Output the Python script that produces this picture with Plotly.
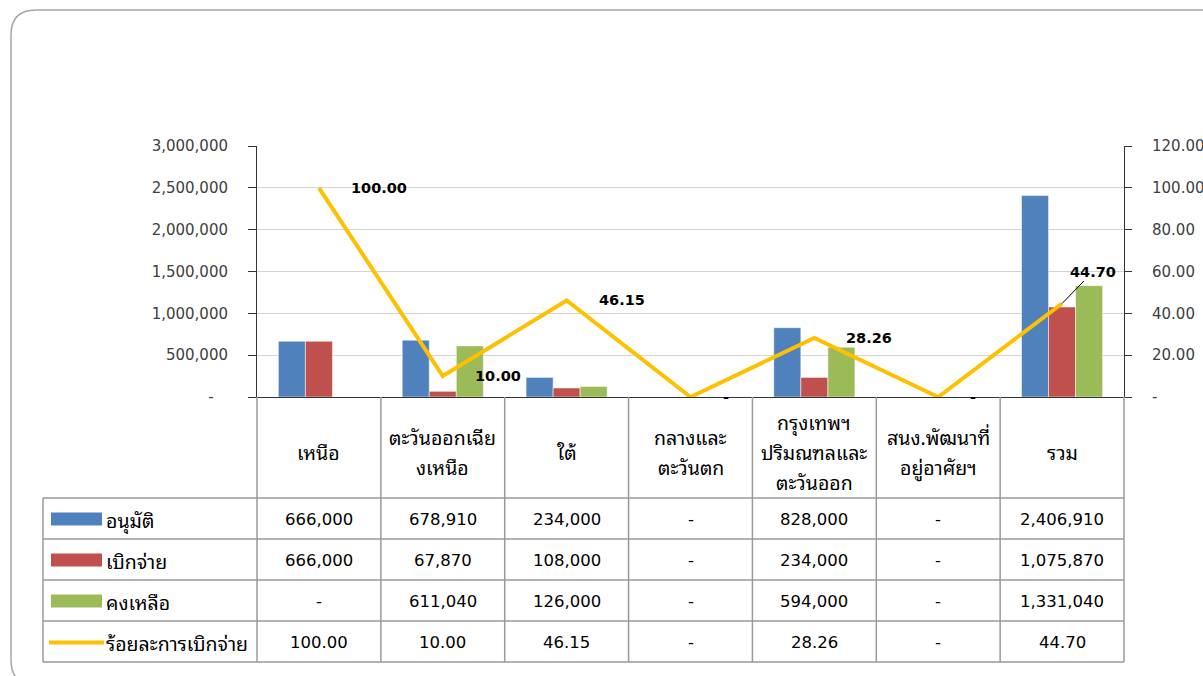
import plotly.graph_objects as go

# ---------------- data ----------------
categories = ["เหนือ", "ตะวันออกเฉียงเหนือ", "ใต้", "กลางและตะวันตก",
              "กรุงเทพฯ ปริมณฑลและตะวันออก", "สนง.พัฒนาที่อยู่อาศัยฯ", "รวม"]
header_lines = [["เหนือ"], ["ตะวันออกเฉีย", "งเหนือ"], ["ใต้"], ["กลางและ", "ตะวันตก"],
                ["กรุงเทพฯ", "ปริมณฑลและ", "ตะวันออก"], ["สนง.พัฒนาที่", "อยู่อาศัยฯ"], ["รวม"]]
approved = [666000, 678910, 234000, 0, 828000, 0, 2406910]
disbursed = [666000, 67870, 108000, 0, 234000, 0, 1075870]
remaining = [0, 611040, 126000, 0, 594000, 0, 1331040]
pct = [100.00, 10.00, 46.15, 0.0, 28.26, 0.0, 44.70]
series_names = ["อนุมัติ", "เบิกจ่าย", "คงเหลือ", "ร้อยละการเบิกจ่าย"]
left_tickvals = [0, 500000, 1000000, 1500000, 2000000, 2500000, 3000000]
left_ticktext = ["-\u00a0\u00a0\u00a0", "500,000", "1,000,000", "1,500,000", "2,000,000", "2,500,000", "3,000,000"]
right_tickvals = [0, 20, 40, 60, 80, 100, 120]
right_ticktext = ["-", "20.00", "40.00", "60.00", "80.00", "100.00", "120.00"]

colors = ["#4F81BD", "#C0504D", "#9BBB59", "#FFC000"]

# ---------------- geometry helpers (pixels -> paper) ----------------
W, H = 1203, 676
L, R, T, B = 257, 1124, 146, 397
def PX(px):
    return (px - L) / (R - L)
def PY(py):
    return (B - py) / (B - T)

def fmt_int(v):
    return "-" if v == 0 else f"{v:,}"
def fmt_pct(v):
    return "-" if v == 0 else f"{v:.2f}"

NUMFONT = "DejaVu Sans, Tahoma, sans-serif"
THAIFONT = "Tahoma, Noto Sans Thai Looped, Noto Sans Thai, Noto Sans, DejaVu Sans, sans-serif"
THAISIZE = 19.5

fig = go.Figure()
for name, vals, col in zip(series_names[:3], [approved, disbursed, remaining], colors[:3]):
    fig.add_trace(go.Bar(x=categories, y=vals, name=name, marker_color=col,
                         marker_line=dict(color="rgba(255,255,255,0.5)", width=1)))
fig.add_trace(go.Scatter(x=categories, y=pct, yaxis="y2", mode="lines", name=series_names[3],
                         line=dict(color=colors[3], width=4), cliponaxis=False))

annotations = []
shapes = []

# line data labels
for i, (c, v) in enumerate(zip(categories, pct)):
    if i == len(pct) - 1:
        annotations.append(dict(x=c, y=v, xref="x", yref="y2", text="<b>%s</b>" % fmt_pct(v),
                                showarrow=True, ax=31, ay=-32, arrowhead=0, arrowwidth=1,
                                arrowcolor="black", standoff=0,
                                font=dict(family=NUMFONT, size=14.5, color="black")))
    else:
        annotations.append(dict(x=c, y=v, xref="x", yref="y2", text="<b>%s</b>" % fmt_pct(v),
                                showarrow=False, xanchor="left", xshift=30,
                                font=dict(family=NUMFONT, size=14.5, color="black")))

# ---------------- data table ----------------
row_lines = [498, 539, 580, 621, 662]
grid_col = "#9a9a9a"
n = len(categories)
for y in row_lines:
    shapes.append(dict(type="line", xref="paper", yref="paper", x0=PX(43), x1=1,
                       y0=PY(y), y1=PY(y), line=dict(color=grid_col, width=1.5)))
shapes.append(dict(type="line", xref="paper", yref="paper", x0=PX(43), x1=PX(43),
                   y0=PY(498), y1=PY(662), line=dict(color=grid_col, width=1.5)))
for i in range(n + 1):
    shapes.append(dict(type="line", xref="paper", yref="paper", x0=i / n, x1=i / n,
                       y0=0, y1=PY(662), line=dict(color=grid_col, width=1.5)))

# header text
for c, lines in zip(categories, header_lines):
    k = len(lines)
    for j, t in enumerate(lines):
        yc = 451 + (j - (k - 1) / 2) * 30
        annotations.append(dict(x=c, y=PY(yc), xref="x", yref="paper", text=t, showarrow=False,
                                xanchor="center", yanchor="middle",
                                font=dict(family=THAIFONT, size=THAISIZE, color="black")))

# rows
rows = [[fmt_int(v) for v in approved], [fmt_int(v) for v in disbursed],
        [fmt_int(v) for v in remaining], [fmt_pct(v) for v in pct]]
for r, (rowvals, name, col) in enumerate(zip(rows, series_names, colors)):
    yc = (row_lines[r] + row_lines[r + 1]) / 2 + 1
    for c, t in zip(categories, rowvals):
        annotations.append(dict(x=c, y=PY(yc), xref="x", yref="paper", text=t, showarrow=False,
                                xanchor="center", yanchor="middle",
                                font=dict(family=NUMFONT, size=16.5, color="black")))
    annotations.append(dict(x=PX(104), y=PY(yc), xref="paper", yref="paper", text=name,
                            showarrow=False, xanchor="left", yanchor="middle",
                            font=dict(family=THAIFONT, size=THAISIZE, color="black")))
    if r < 3:
        shapes.append(dict(type="rect", xref="paper", yref="paper", x0=PX(51), x1=PX(102),
                           y0=PY(yc - 7), y1=PY(yc + 6), fillcolor=col, line=dict(width=0)))
    else:
        shapes.append(dict(type="line", xref="paper", yref="paper", x0=PX(49), x1=PX(104),
                           y0=PY(yc), y1=PY(yc), line=dict(color=col, width=4)))

# outer rounded frame
path = (f"M {PX(36)},{PY(685)} Q {PX(11)},{PY(685)} {PX(11)},{PY(660)} "
        f"L {PX(11)},{PY(35)} Q {PX(11)},{PY(10)} {PX(36)},{PY(10)} L {PX(1300)},{PY(10)}")
shapes.append(dict(type="path", xref="paper", yref="paper", path=path,
                   line=dict(color="#a6a6a6", width=1.5)))

axis_col = "#404040"
fig.update_layout(
    width=W, height=H,
    margin=dict(l=L, r=W - R, t=T, b=H - B, pad=0, autoexpand=False),
    paper_bgcolor="white", plot_bgcolor="white",
    showlegend=False,
    barmode="group", bargap=0.345, bargroupgap=0,
    xaxis=dict(type="category", range=[-0.5, n - 0.5], showticklabels=False, ticks="",
               showgrid=False, showline=True, linecolor="#333333", linewidth=1, zeroline=False,
               automargin=False, fixedrange=True),
    yaxis=dict(range=[0, 3000000], tickvals=left_tickvals, ticktext=left_ticktext,
               showgrid=True, gridcolor="#d4d4d4", gridwidth=1, zeroline=False,
               showline=True, linecolor="#333333", linewidth=1, automargin=False,
               ticks="outside", ticklen=8, tickcolor="#333333", ticklabelstandoff=17,
               tickfont=dict(family=NUMFONT, size=15, color=axis_col)),
    yaxis2=dict(range=[0, 120], overlaying="y", side="right", tickvals=right_tickvals,
                ticktext=right_ticktext, showgrid=False, zeroline=False,
                showline=True, linecolor="#333333", linewidth=1, automargin=False,
                ticks="outside", ticklen=7, tickcolor="#333333", ticklabelstandoff=17,
                tickfont=dict(family=NUMFONT, size=15, color=axis_col)),
    annotations=annotations,
    shapes=shapes,
)

fig.write_html("out.html", config={"displayModeBar": False},
               post_script="document.body.style.margin='0';document.body.style.overflow='hidden';")
